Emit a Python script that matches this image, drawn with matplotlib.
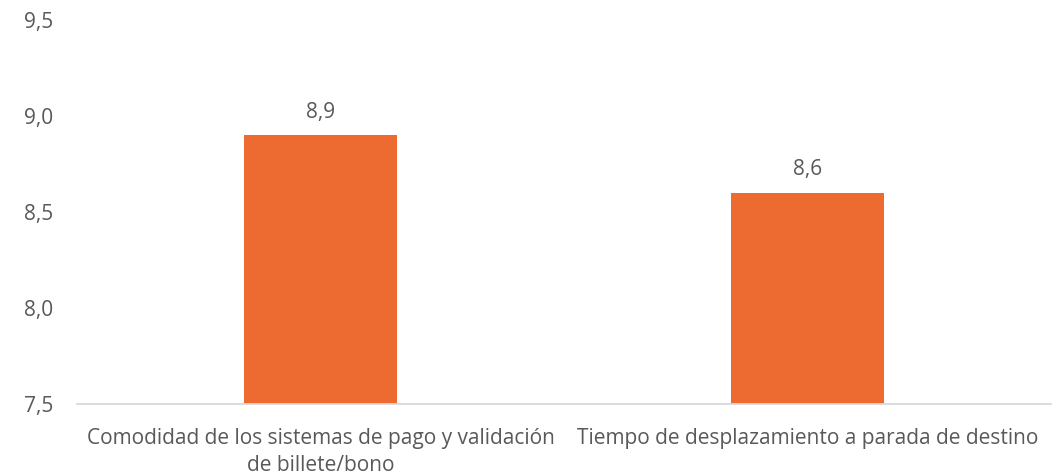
import matplotlib
matplotlib.use('Agg')
import matplotlib.pyplot as plt

plt.rcParams.update({'font.family': ['Open Sans', 'DejaVu Sans'], 'font.size': 15})

# Data
categories = ['Comodidad de los sistemas de pago y validación\nde billete/bono',
              'Tiempo de desplazamiento a parada de destino']
values = [8.9, 8.6]
yticks = [7.5, 8.0, 8.5, 9.0, 9.5]

BAR = '#ED6A31'
TXT = '#595959'


def fmt(v):
    return f'{v:.1f}'.replace('.', ',')


fig = plt.figure(figsize=(10.54, 4.76), dpi=100)
ax = fig.add_axes([0.0731, 0.1513, 0.924, 0.8067])

x = range(len(values))
bars = ax.bar(x, [v - yticks[0] for v in values], bottom=yticks[0], width=0.314,
              color=BAR, zorder=2)

for xi, v in zip(x, values):
    ax.annotate(fmt(v), (xi, v), xytext=(0, 9), textcoords='offset points',
                ha='center', va='bottom', fontsize=15, color=TXT)

ax.set_xlim(-0.5, len(values) - 0.5)
ax.set_ylim(yticks[0], yticks[-1])
ax.set_yticks(yticks)
ax.set_yticklabels([fmt(t) for t in yticks], color=TXT, fontsize=15)
ax.set_xticks(list(x))
ax.set_xticklabels(categories, color=TXT, fontsize=15, linespacing=1.42)
ax.tick_params(axis='both', length=0)
ax.tick_params(axis='y', pad=17)
ax.tick_params(axis='x', pad=17)

for s in ['top', 'right', 'left']:
    ax.spines[s].set_visible(False)
ax.spines['bottom'].set_color('#D9D9D9')
ax.spines['bottom'].set_linewidth(1.3)

fig.savefig('out.png', dpi=100, facecolor='white')
